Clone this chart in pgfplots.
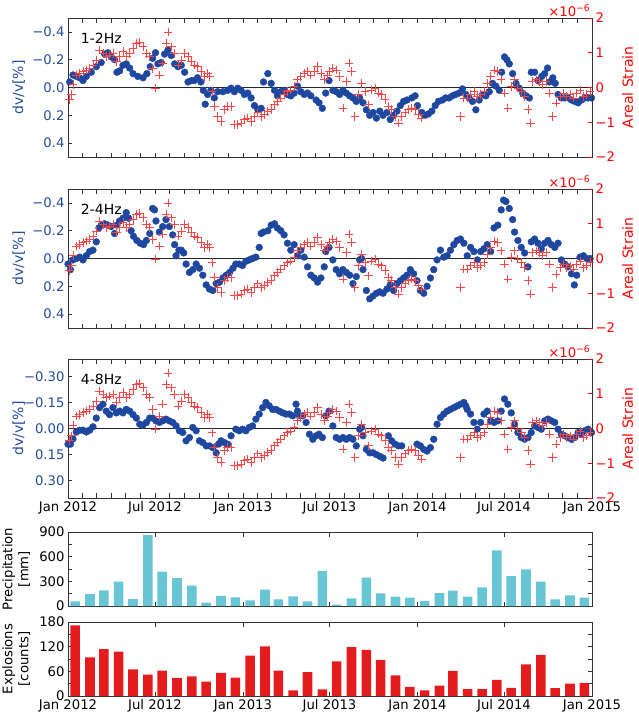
\documentclass[border=0pt]{standalone}
\usepackage{fontspec}
\setmainfont{DejaVu Sans}
\usepackage{pgfplots}
\usepackage{pgfplotstable}
\pgfplotsset{compat=1.18}
\definecolor{dvblue}{RGB}{30,72,160}
\definecolor{tkblue}{RGB}{36,76,156}
\definecolor{strred}{RGB}{255,0,0}
\definecolor{crossred}{RGB}{255,70,70}
\definecolor{precip}{RGB}{104,198,212}
\definecolor{explred}{RGB}{228,28,30}

\pgfplotstableread{
d v
3.5 -0.04
10.4 -0.09
17.4 -0.08
24.4 -0.07
31.3 -0.05
38.3 -0.08
48.7 -0.11
59.2 -0.15
69.6 -0.18
76.6 -0.24
83.5 -0.25
90.5 -0.22
97.4 -0.20
102.3 -0.11
108 -0.12
115 -0.16
122 -0.17
129 -0.14
136 -0.10
146 -0.08
157 -0.07
165 -0.10
172 -0.15
177 -0.21
183 -0.25
188 -0.17
195 -0.18
202 -0.24
209 -0.27
216 -0.23
223 -0.17
230 -0.15
237 -0.16
244 -0.11
251 -0.04
258 -0.05
264 -0.05
271 -0.07
278 -0.04
283 0.02
287 0.12
292 0.05
299 0.02
306 0.075
313 0.03
324 0.03
334 0.02
341 0.005
348 0.03
355 0.005
362 0.02
369 0.05
376 0.04
383 0.075
390 0.13
397 0.16
404 0.15
409 -0.04
418 -0.10
425 -0.03
432 0.02
438 0.06
445 0.03
452 0.02
459 0.05
466 0.06
473 0.04
480 -0.01
487 0.03
494 0.05
501 0.04
508 0.06
519 0.09
525 0.11
532 0.15
539 0.04
546 -0.05
554 0.02
561 0.03
568 0.05
575 0.02
582 0.04
589 0.06
596 0.075
603 0.10
610 0.075
617 0.11
624 0.16
631 0.20
638 0.18
645 0.22
652 0.17
659 0.20
667 0.18
674 0.23
681 0.20
688 0.17
695 0.13
702 0.10
709 0.09
719 0.075
726 0.06
731 0.13
740 0.18
747 0.20
754 0.19
761 0.17
768 0.13
775 0.10
783 0.09
790 0.075
797 0.075
804 0.06
811 0.05
818 0.04
825 0.01
832 0.05
839 0.075
846 0.10
853 0.16
860 0.09
867 0.05
874 0.06
881 0.03
888 -0.03
895 -0.01
902 0.02
907 -0.11
913 -0.22
918 -0.20
923 -0.17
930 -0.10
937 -0.03
944 0.005
951 0.04
958 0.06
965 0.075
969 -0.11
976 -0.11
983 -0.05
991 -0.08
997 -0.10
1003 -0.14
1007 -0.04
1014 -0.07
1019 -0.03
1025 0.05
1032 0.075
1039 0.075
1046 0.075
1053 0.09
1060 0.10
1067 0.11
1074 0.09
1081 0.075
1088 0.075
1095 0.075
}\blueA

\pgfplotstableread{
d v
0 0.04
5 0.08
10.4 0.01
17.4 0.0
24.4 -0.01
31.3 0.01
38.3 -0.02
45.2 -0.05
52.2 -0.06
59.2 -0.12
64.7 -0.22
69.6 -0.24
76.6 -0.25
83.5 -0.24
90.5 -0.23
97.4 -0.18
102.3 -0.24
108 -0.27
115 -0.29
122 -0.33
127 -0.29
132 -0.20
137 -0.16
144 -0.13
151 -0.11
158 -0.10
164 -0.13
171 -0.18
177 -0.36
181 -0.35
184 -0.27
191 -0.19
198 -0.23
205 -0.28
212 -0.23
219 -0.17
223 -0.10
226 -0.02
232 -0.06
237 -0.06
242 -0.04
247 0.04
254 0.10
261 0.08
268 0.04
275 0.07
282 0.12
289 0.19
296 0.22
303 0.23
310 0.18
317 0.17
324 0.14
331 0.12
338 0.10
345 0.07
351 0.04
358 0.04
365 0.05
372 0.02
379 0.01
386 0.0
393 -0.01
400 -0.08
404 -0.18
409 -0.19
418 -0.20
425 -0.24
432 -0.25
438 -0.22
445 -0.20
452 -0.17
459 -0.11
466 -0.06
473 -0.10
480 -0.02
487 -0.06
494 -0.01
501 0.06
508 0.12
515 0.14
522 0.17
529 0.14
536 0.06
539 -0.05
546 -0.08
554 0.01
561 0.08
568 0.11
575 0.08
582 0.10
589 0.12
596 0.18
603 0.13
610 0.01
614 0.0
617 0.08
624 0.23
631 0.29
638 0.27
645 0.25
652 0.24
659 0.25
667 0.22
674 0.19
681 0.23
688 0.18
695 0.16
702 0.14
709 0.12
716 0.08
723 0.11
730 0.16
737 0.23
744 0.25
751 0.20
758 0.14
765 0.08
772 0.01
779 -0.06
786 -0.01
793 -0.02
800 -0.06
807 -0.10
814 -0.13
821 -0.14
828 -0.11
835 -0.02
842 -0.08
849 -0.05
856 0.01
863 -0.05
870 -0.07
877 -0.10
884 -0.05
891 -0.22
899 -0.24
906 -0.35
911 -0.42
916 -0.41
923 -0.36
930 -0.28
934 -0.19
941 -0.13
948 -0.08
955 -0.04
962 0.06
969 -0.12
976 -0.14
983 -0.11
990 -0.07
997 -0.11
1004 -0.13
1011 -0.10
1018 -0.08
1025 -0.11
1032 0.01
1039 0.04
1046 0.06
1053 0.11
1059 0.19
1064 0.12
1071 -0.01
1078 -0.02
1085 0.0
1092 0.0
}\blueB

\pgfplotstableread{
d v
0 0.09
5 0.09
10.4 0.06
17.4 0.02
24.4 0.01
31.3 0.01
38.3 0.02
45.2 0.01
52.2 -0.01
59.2 -0.06
66.1 -0.12
73.1 -0.14
80 -0.10
87 -0.08
94 -0.12
101 -0.09
108 -0.10
115 -0.09
122 -0.11
129 -0.10
136 -0.08
143 -0.06
150 -0.025
157 -0.02
164 -0.035
171 -0.06
177 -0.06
184 -0.044
191 -0.035
198 -0.044
205 -0.054
212 -0.044
219 -0.035
226 -0.015
233 0.013
240 0.023
247 0.071
254 0.052
261 -0.006
268 0.013
275 0.071
282 0.081
289 0.10
296 0.10
303 0.11
310 0.14
315 0.09
320 0.071
327 0.081
334 0.09
341 0.042
351 0.004
358 0.013
365 0.004
372 0.013
379 -0.006
386 -0.015
393 -0.054
400 -0.083
407 -0.12
414 -0.15
421 -0.13
428 -0.11
435 -0.11
442 -0.10
449 -0.09
456 -0.083
463 -0.083
470 -0.073
477 -0.14
480 -0.10
484 -0.073
491 -0.073
498 -0.035
505 0.033
512 0.062
519 0.042
525 0.033
532 0.052
539 -0.073
546 -0.10
554 -0.015
561 0.052
568 0.062
575 0.052
582 0.062
589 0.052
596 0.062
603 0.10
610 0.004
614 -0.006
617 0.042
624 0.12
631 0.14
638 0.14
645 0.15
652 0.16
659 0.17
670 0.042
677 0.071
684 0.09
691 0.10
698 0.10
730 0.09
737 0.10
744 0.12
751 0.13
758 0.11
765 0.062
772 -0.025
779 -0.063
786 -0.083
793 -0.10
800 -0.11
807 -0.12
814 -0.13
821 -0.14
828 -0.15
832 -0.13
835 -0.11
842 -0.083
849 -0.035
856 0.004
863 -0.035
870 -0.083
877 -0.10
884 -0.044
891 -0.035
899 -0.044
906 -0.10
913 -0.17
920 -0.14
927 -0.09
934 -0.025
941 0.023
948 0.052
955 0.062
962 0.052
969 0.023
976 -0.015
983 -0.006
990 0.004
997 -0.044
1004 -0.054
1011 -0.044
1018 -0.035
1025 0.004
1032 0.033
1039 0.042
1046 0.052
1053 0.062
1060 0.052
1067 0.023
1074 0.033
1081 0.013
1088 0.004
1095 0.023
}\blueC

\pgfplotstableread{
d s
3.5 -0.35
7 -0.21
10.4 0.08
17.4 0.36
24.4 0.41
31.3 0.46
38.3 0.50
45.2 0.55
52.2 0.65
59.2 0.79
66.1 1.08
73.1 0.98
80 0.89
87 0.93
94 0.98
101 0.74
108 0.89
115 1.03
122 0.89
129 0.98
136 1.12
143 1.27
150 1.31
157 1.17
164 0.98
171 0.89
177 0.55
183 -0.02
191 0.36
198 0.70
205 1.27
209 1.6
216 1.17
223 0.98
230 0.65
237 0.79
244 0.98
251 0.89
258 0.74
264 0.65
271 0.60
278 0.46
285 0.31
292 0.41
296 0.31
301 -0.11
306 -0.54
313 -0.83
320 -0.97
327 -0.64
334 -0.54
341 -0.54
348 -1.07
355 -1.07
362 -1.02
369 -0.92
376 -0.88
383 -0.97
390 -0.83
397 -0.73
404 -0.83
411 -0.78
418 -0.69
425 -0.64
432 -0.50
438 -0.40
445 -0.30
452 -0.21
459 -0.11
466 -0.07
473 0.03
480 0.22
487 0.31
494 0.41
501 0.46
508 0.36
515 0.46
522 0.60
529 0.41
536 0.22
543 0.36
547 0.46
554 0.55
561 0.50
568 0.31
575 -0.59
582 0.17
588 0.70
593 0.46
600 -0.83
607 -0.21
614 0.12
621 -0.11
628 -0.50
635 -0.07
642 -0.02
649 -0.16
656 -0.21
663 -0.35
670 -0.54
677 -0.64
684 -0.83
691 -1.02
698 -0.83
705 -0.73
712 -0.64
719 -0.59
726 -0.64
733 -0.78
740 -0.88
821 -0.83
828 -0.30
835 -0.30
842 -0.21
849 -0.11
856 -0.26
863 -0.21
870 -0.11
877 0.12
884 0.31
891 0.50
899 0.46
906 0.22
913 -0.16
920 -0.59
927 0.03
934 0.22
941 -0.02
948 -0.11
955 -0.26
962 -0.64
967 -1.02
972 0.17
979 0.22
986 0.17
993 0.08
1000 0.17
1007 -0.16
1013 -0.83
1021 -0.45
1029 -0.26
1036 -0.16
1043 -0.26
1050 -0.21
1057 -0.30
1064 -0.16
1071 -0.07
1078 -0.26
1085 -0.21
1092 -0.11
}\strain

\pgfplotsset{
 base/.style={scale only axis, width=524pt, xmin=0, xmax=1096,
   /pgf/number format/assume math mode=true,
   tick label style={font=\fontsize{13.2}{15}\selectfont},
   label style={font=\fontsize{14}{16}\selectfont},
   axis line style={black!80, line width=0.8pt},
   tick style={black!80, line width=0.7pt},
   major tick length=4.5pt, minor tick length=4.5pt,
   tick align=inside,
   xtick={0,182,366,547,731,912,1096},
   xticklabels={},
 },
 dvaxis/.style={base, height=139pt, y dir=reverse, ymin=-0.5, ymax=0.5,
   ytick={-0.4,-0.2,0,0.2,0.4}, yticklabels={−0.4,−0.2,0.0,0.2,0.4},
   ytick pos=left, yticklabel style={text=tkblue},
   ylabel={dv/v[\%]},
   ylabel style={text=tkblue, at={(axis description cs:-0.094,0.5)}, anchor=center},
   minor xtick={31,60,91,121,152,213,244,274,305,335,397,425,456,486,517,578,609,639,670,700,762,790,821,851,882,943,974,1004,1035,1065},
   xtick pos=both,
 },
 straxis/.style={base, height=139pt, ymin=-2, ymax=2,
   axis y line*=right, axis x line=none,
   tick align=inside, clip mode=individual,
   ytick={-2,-1,0,1,2}, yticklabels={−2,−1,0,1,2},
   yticklabel style={text=strred}, ytick style={strred, line width=0.7pt},
   ylabel={Areal Strain},
   ylabel style={text=strred, at={(axis description cs:1.068,0.5)}, anchor=center},
 },
 bluepts/.style={only marks, mark=*, mark size=3.4pt, color=dvblue, mark options={draw=dvblue, fill=dvblue}},
 redpts/.style={only marks, mark=+, mark size=4.3pt, color=crossred, mark options={line width=0.8pt}},
 zeroline/.style={black!85, line width=0.8pt, forget plot},
 barax/.style={base, height=74pt, ymin=0, xtick pos=both, ytick pos=both,
   ylabel style={align=center, at={(axis description cs:-0.099,0.5)}, anchor=center, font=\fontsize{13.2}{16}\selectfont}},
}

\newcommand{\xten}{\node[anchor=south east, text=strred, inner sep=1.5pt, font=\fontsize{13.2}{15}\selectfont] at (axis description cs:1,1) {×10\textsuperscript{−6}};}

\begin{document}
\begin{tikzpicture}
\path[use as bounding box] (-68pt,18pt) rectangle (570pt,-695pt);

% ---------- panel 1 ----------
\begin{axis}[dvaxis, at={(0pt,0pt)}, anchor=north west]
\addplot[zeroline] coordinates {(0,0) (1096,0)};
\addplot[bluepts] table[x=d,y=v] {\blueA};
\node[anchor=west, font=\fontsize{14}{16}\selectfont] at (axis description cs:0.018,0.856) {1-2Hz};
\end{axis}
\begin{axis}[straxis, at={(0pt,0pt)}, anchor=north west]
\addplot[redpts] table[x=d,y=s] {\strain};
\xten
\end{axis}

% ---------- panel 2 ----------
\begin{axis}[dvaxis, at={(0pt,-171pt)}, anchor=north west]
\addplot[zeroline] coordinates {(0,0) (1096,0)};
\addplot[bluepts] table[x=d,y=v] {\blueB};
\node[anchor=west, font=\fontsize{14}{16}\selectfont] at (axis description cs:0.018,0.856) {2-4Hz};
\end{axis}
\begin{axis}[straxis, at={(0pt,-171pt)}, anchor=north west]
\addplot[redpts] table[x=d,y=s] {\strain};
\xten
\end{axis}

% ---------- panel 3 ----------
\begin{axis}[dvaxis, at={(0pt,-341pt)}, anchor=north west, ymin=-0.4, ymax=0.4,
  ytick={-0.3,-0.15,0,0.15,0.3}, yticklabels={−0.30,−0.15,0.00,0.15,0.30},
  xticklabels={Jan 2012, Jul 2012, Jan 2013, Jul 2013, Jan 2014, Jul 2014, Jan 2015}]
\addplot[zeroline] coordinates {(0,0) (1096,0)};
\addplot[bluepts] table[x=d,y=v] {\blueC};
\node[anchor=west, font=\fontsize{14}{16}\selectfont] at (axis description cs:0.018,0.856) {4-8Hz};
\end{axis}
\begin{axis}[straxis, at={(0pt,-341pt)}, anchor=north west]
\addplot[redpts] table[x=d,y=s] {\strain};
\xten
\end{axis}

% ---------- precipitation ----------
\begin{axis}[barax, at={(0pt,-514pt)}, anchor=north west, ymax=900,
  ytick={0,300,600,900}, minor ytick={150,450,750},
  ylabel={Precipitation\\{}[mm]}]
\addplot[ybar, bar width=20, fill=precip, draw=none] coordinates {
(15,55) (46,146) (75,190) (106,296) (136,85) (167,863) (197,417) (228,340) (259,247) (289,40) (320,122) (350,105)
(381,69) (412,199) (440,81) (471,118) (501,57) (532,426) (562,16) (593,93) (624,345) (654,154) (685,113) (715,101)
(746,61) (777,158) (805,186) (836,113) (866,227) (897,677) (927,365) (958,446) (989,296) (1019,81) (1050,130) (1080,101)};
\end{axis}

% ---------- explosions ----------
\begin{axis}[barax, at={(0pt,-604pt)}, anchor=north west, ymax=180,
  ytick={0,60,120,180}, minor ytick={30,90,150},
  xticklabels={Jan 2012, Jul 2012, Jan 2013, Jul 2013, Jan 2014, Jul 2014, Jan 2015},
  ylabel={Explosions\\{}[counts]}]
\addplot[ybar, bar width=20, fill=explred, draw=none] coordinates {
(15,172) (46,94) (75,114) (106,108) (136,65) (167,52) (197,62) (228,44) (259,48) (289,35) (320,56) (350,45)
(381,98) (412,121) (440,62) (471,14) (501,58) (532,16) (562,84) (593,119) (624,112) (654,88) (685,50) (715,22)
(746,14) (777,25) (805,61) (836,17) (866,17) (897,39) (927,20) (958,77) (989,100) (1019,19) (1050,30) (1080,32)};
\end{axis}
\end{tikzpicture}
\end{document}
